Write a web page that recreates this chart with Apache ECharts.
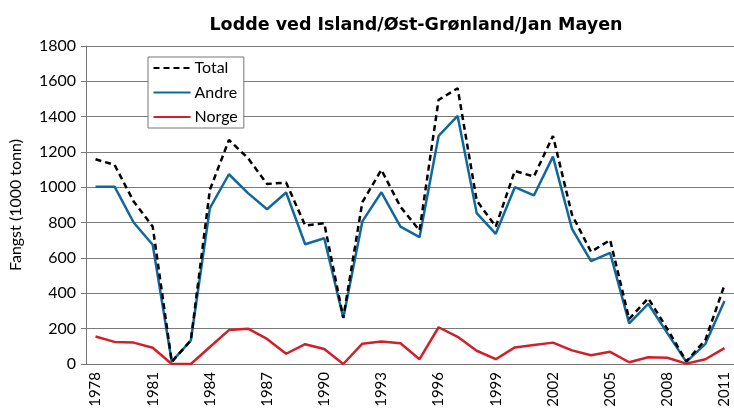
<!DOCTYPE html>
<html>
<head>
<meta charset="utf-8">
<script src="https://cdn.jsdelivr.net/npm/echarts@6/dist/echarts.min.js"></script>
<style>html,body{margin:0;padding:0;background:#fff}#c{width:734px;height:417px}</style>
</head>
<body>
<div id="c"></div>
<script>
const years = ['1978','1979','1980','1981','1982','1983','1984','1985','1986','1987','1988','1989','1990','1991','1992','1993','1994','1995','1996','1997','1998','1999','2000','2001','2002','2003','2004','2005','2006','2007','2008','2009','2010','2011'];
const total = [1159,1127,920,778,13,133,986,1268,1165,1019,1027,784,797,262,916,1099,890,756,1495,1561,925,778,1093,1061,1291,845,635,702,255,372,199,15,137,446];
const andre = [1004,1004,801,675,13,133,882,1074,967,876,971,678,712,260,807,972,778,718,1291,1404,854,737,1001,954,1174,765,582,629,230,341,175,12,114,356];
const norge = [156,125,121,92,0,0,96,192,200,142,58,112,85,0,115,127,117,27,208,154,75,27,94,108,121,77,50,69,10,38,35,2,27,90];
const yTicks = [0,200,400,600,800,1000,1200,1400,1600,1800];

const font = 'Lato, "Open Sans", sans-serif';
const chart = echarts.init(document.getElementById('c'));
chart.setOption({
  animation: false,
  title: {
    text: 'Lodde ved Island/Øst-Grønland/Jan Mayen',
    left: 411, top: 11, textAlign: 'center',
    textStyle: {fontFamily: '"DejaVu Sans", sans-serif', fontWeight: 'bold', fontSize: 17.5, color: '#000'}
  },
  legend: {
    orient: 'vertical', left: 148, top: 57,
    padding: [3, 6, 3, 4.5],
    itemWidth: 37, itemHeight: 14, itemGap: 8.5,
    backgroundColor: '#fff', borderColor: '#777', borderWidth: 1,
    itemStyle: {opacity: 0},
    textStyle: {fontFamily: font, fontSize: 16, color: '#000', padding: [0,0,0,-1]},
    data: ['Total', 'Andre', 'Norge']
  },
  grid: {left: 86, top: 46, width: 655, bottom: 53},
  xAxis: {
    type: 'category', data: years, boundaryGap: true,
    axisLine: {lineStyle: {color: '#777', width: 1}},
    axisTick: {interval: 0, length: 6, lineStyle: {color: '#777'}},
    axisLabel: {interval: 2, rotate: 90, margin: 8, fontFamily: font, fontSize: 15, color: '#000'}
  },
  yAxis: {
    type: 'value', min: yTicks[0], max: yTicks[yTicks.length-1], interval: 200,
    name: 'Fangst (1000 tonn)', nameLocation: 'middle', nameGap: 62, nameRotate: 90,
    nameTextStyle: {fontFamily: font, fontSize: 16, color: '#000'},
    axisLine: {show: true, lineStyle: {color: '#777'}},
    axisTick: {show: true, length: 5, lineStyle: {color: '#777'}},
    axisLabel: {margin: 10, fontFamily: font, fontSize: 16, color: '#000', formatter: v => String(v)},
    splitLine: {lineStyle: {color: '#7a7a7a', width: 1}}
  },
  series: [
    {name: 'Total', type: 'line', data: total, symbol: 'none', z: 4,
     itemStyle: {color: '#000'},
     lineStyle: {color: '#000', width: 2.5, type: [6, 4]}},
    {name: 'Andre', type: 'line', data: andre, symbol: 'none', z: 3,
     itemStyle: {color: '#10689c'},
     lineStyle: {color: '#10689c', width: 2.5}},
    {name: 'Norge', type: 'line', data: norge, symbol: 'none', z: 2,
     itemStyle: {color: '#d0202a'},
     lineStyle: {color: '#d0202a', width: 2.5}}
  ]
});
</script>
</body>
</html>
